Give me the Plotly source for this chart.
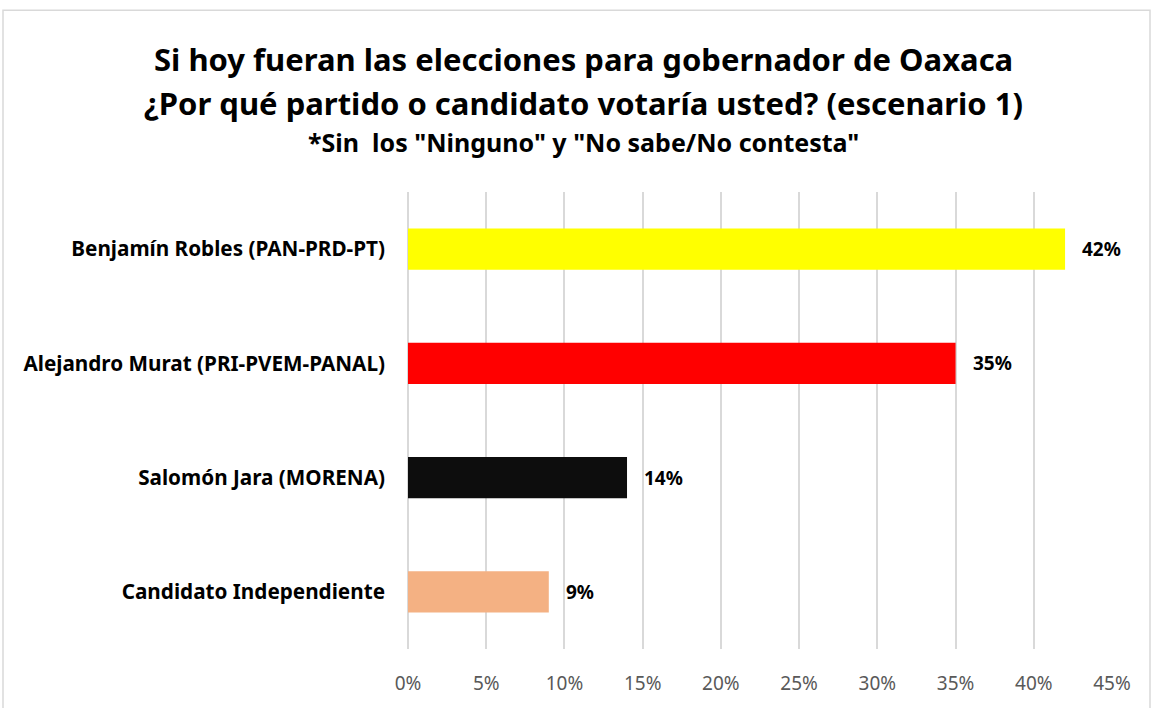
import plotly.graph_objects as go

# data, top to bottom as drawn
candidatos = [
    "Benjamín Robles (PAN-PRD-PT)",
    "Alejandro Murat (PRI-PVEM-PANAL)",
    "Salomón Jara (MORENA)",
    "Candidato Independiente",
]
porcentajes = [42, 35, 14, 9]
colores = ["#FFFF00", "#FF0000", "#0D0D0D", "#F4B183"]
ticks_x = [0, 5, 10, 15, 20, 25, 30, 35, 40, 45]

titulo_1 = "Si hoy fueran las elecciones para gobernador de Oaxaca"
titulo_2 = "¿Por qué partido o candidato votaría usted? (escenario 1)"
titulo_3 = "*Sin  los \"Ninguno\" y \"No sabe/No contesta\""

W, H = 1158, 708
L, R, T, B = 408, 46, 192, 56
FONT = "Noto Sans"

fig = go.Figure()
fig.add_trace(go.Bar(
    x=porcentajes,
    y=candidatos,
    orientation="h",
    marker=dict(color=colores, line=dict(width=0)),
    hoverinfo="x+y",
))

annotations = []
for cand, val in zip(candidatos, porcentajes):
    annotations.append(dict(
        x=val, y=cand, xref="x", yref="y",
        text=f"<b>{val}%</b>", showarrow=False,
        xanchor="left", xshift=15,
        font=dict(family=FONT, size=19, color="#000000"),
    ))


def paper_x(px):
    return (px - L) / (W - L - R)


def paper_y(py):
    return (H - B - py) / (H - T - B)


# title lines placed by pixel row
for txt, py, size in [(titulo_1, 58, 31), (titulo_2, 102, 31), (titulo_3, 142, 25)]:
    annotations.append(dict(
        x=paper_x(W / 2 + 4), y=paper_y(py), xref="paper", yref="paper",
        text=f"<b>{txt}</b>", showarrow=False,
        xanchor="center", yanchor="middle",
        font=dict(family=FONT, size=size, color="#000000"),
    ))

fig.update_layout(
    width=W, height=H,
    margin=dict(l=L, r=R, t=T, b=B),
    paper_bgcolor="white",
    plot_bgcolor="white",
    showlegend=False,
    bargap=0.64,
    annotations=annotations,
    shapes=[dict(
        type="rect", xref="paper", yref="paper",
        x0=paper_x(3), x1=paper_x(1150),
        y0=paper_y(720), y1=paper_y(9),
        line=dict(color="#D9D9D9", width=1.5), fillcolor="rgba(0,0,0,0)",
        layer="below",
    )],
    xaxis=dict(
        range=[0, 45],
        tickvals=ticks_x,
        ticktext=[f"{t}%" for t in ticks_x],
        showgrid=True, gridcolor="#D9D9D9", gridwidth=1.5,
        zeroline=True, zerolinecolor="#D9D9D9", zerolinewidth=1.5,
        showline=False, ticks="",
        tickfont=dict(family=FONT, size=19, color="#595959"),
        ticklabelstandoff=21,
        fixedrange=True,
    ),
    yaxis=dict(
        categoryorder="array",
        categoryarray=candidatos[::-1],
        showgrid=False, zeroline=False, showline=False, ticks="",
        tickfont=dict(family=FONT, size=20.7, color="#000000", weight="bold"),
        ticklabelstandoff=22,
        fixedrange=True,
    ),
)

# drop the default page margin so the figure sits at the window's corner
fig.write_html(
    "out.html",
    config={"displayModeBar": False},
    post_script="document.body.style.margin='0';document.body.style.overflow='hidden';",
)
